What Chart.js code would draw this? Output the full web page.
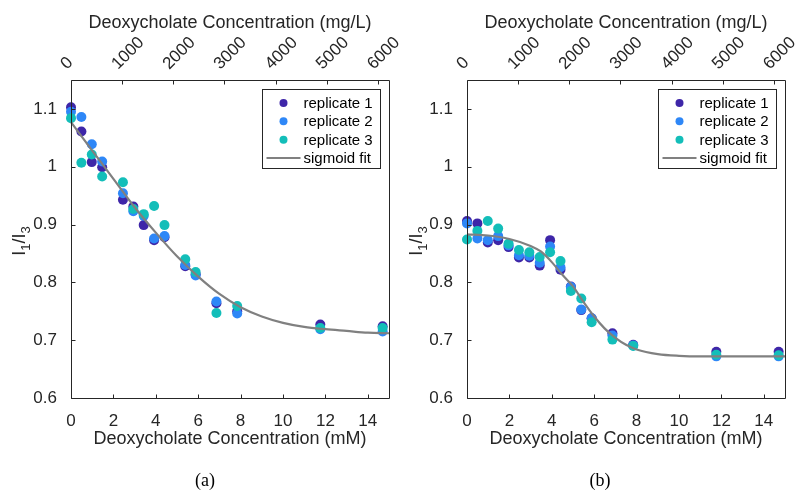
<!DOCTYPE html>
<html><head><meta charset="utf-8">
<script src="https://cdn.jsdelivr.net/npm/chart.js@4/dist/chart.umd.min.js"></script>
<style>
html,body{margin:0;padding:0;background:#fff;}
#wrap{position:relative;width:795px;height:490px;overflow:hidden;background:#fff;}
canvas{position:absolute;top:0;}
.cap{position:absolute;font-family:"Liberation Serif","DejaVu Serif",serif;font-size:18px;color:#000;transform:translate(-50%,-50%);white-space:nowrap;}
</style></head><body>
<div id="wrap">
<canvas id="ca" width="404" height="490" style="left:0"></canvas>
<canvas id="cb" width="398" height="490" style="left:397px"></canvas>
<div class="cap" style="left:205px;top:480px">(a)</div>
<div class="cap" style="left:600px;top:480px">(b)</div>
</div>
<script>
// ---- labels ----
const seriesNames = ['replicate 1', 'replicate 2', 'replicate 3'];
const fitName = 'sigmoid fit';
const xTitle = 'Deoxycholate Concentration (mM)';
const x2Title = 'Deoxycholate Concentration (mg/L)';
const mMTicks = [0, 2, 4, 6, 8, 10, 12, 14];
const mgTicks = [0, 1000, 2000, 3000, 4000, 5000, 6000];
const yTicks = [0.6, 0.7, 0.8, 0.9, 1, 1.1];
const molarMass = 414.55; // mg/L per mM

// ---- panel (a) ----
const concA = [0, 0.49, 0.98, 1.47, 2.45, 2.94, 3.43, 3.92, 4.41, 5.39, 5.88, 6.86, 7.84, 11.76, 14.7];
const aRep1 = [1.103, 1.061, 1.008, 0.999, 0.943, 0.931, 0.899, 0.873, 0.878, 0.828, 0.814, 0.764, 0.750, 0.727, 0.724];
const aRep2 = [1.095, 1.086, 1.039, 1.009, 0.954, 0.923, 0.915, 0.876, 0.880, 0.830, 0.812, 0.767, 0.746, 0.719, 0.715];
const aRep3 = [1.084, 1.007, 1.021, 0.983, 0.973, 0.927, 0.918, 0.932, 0.899, 0.840, 0.818, 0.747, 0.759, 0.721, 0.721];
const fitXA = [0, 1, 2, 3, 4, 5, 6, 7, 8, 9, 10, 11, 12, 13, 14, 15];
const fitYA = [1.077, 1.028, 0.979, 0.930, 0.886, 0.845, 0.810, 0.780, 0.757, 0.741, 0.730, 0.723, 0.719, 0.716, 0.713, 0.712];

// ---- panel (b) ----
const concB = [0, 0.49, 0.98, 1.47, 1.96, 2.45, 2.94, 3.43, 3.92, 4.41, 4.9, 5.39, 5.88, 6.86, 7.84, 11.76, 14.7];
const bRep1 = [0.906, 0.902, 0.869, 0.873, 0.861, 0.843, 0.843, 0.829, 0.873, 0.822, 0.793, 0.752, 0.738, 0.712, 0.692, 0.680, 0.680];
const bRep2 = [0.902, 0.876, 0.873, 0.880, 0.864, 0.847, 0.846, 0.834, 0.862, 0.826, 0.792, 0.753, 0.738, 0.708, 0.691, 0.672, 0.672];
const bRep3 = [0.874, 0.889, 0.906, 0.893, 0.867, 0.856, 0.852, 0.844, 0.852, 0.837, 0.785, 0.772, 0.731, 0.701, 0.690, 0.675, 0.674];
const fitXB = [0, 1, 2, 3, 3.5, 4, 4.5, 5, 5.5, 6, 6.5, 7, 7.5, 8, 9, 10, 11, 12, 13, 14, 15];
const fitYB = [0.883, 0.881, 0.875, 0.863, 0.853, 0.835, 0.813, 0.793, 0.766, 0.741, 0.720, 0.704, 0.692, 0.684, 0.676, 0.673, 0.672, 0.672, 0.672, 0.672, 0.672];

// ---- styles ----
const repColors = ['#3e26a8', '#2e87f7', '#13beb9'];
const fitColor = '#808080';
const axisColor = '#262626';
const FONT = '"Liberation Sans", Arial, Helvetica, sans-serif';

const decor = {
  id: 'decor',
  afterDatasetsDraw(chart) {
    const ctx = chart.ctx, a = chart.chartArea;
    const sx = chart.scales.x, sx2 = chart.scales.x2, sy = chart.scales.y;
    ctx.save();
    ctx.strokeStyle = axisColor;
    ctx.lineWidth = 1;
    const L = Math.round(a.left) + 0.5, R = Math.round(a.right) + 0.5;
    const T = Math.round(a.top) + 0.5, B = Math.round(a.bottom) + 0.5;
    ctx.beginPath();
    ctx.rect(L, T, R - L, B - T);
    const tl = 4;
    mMTicks.forEach(v => { const p = Math.round(sx.getPixelForValue(v)) + 0.5; ctx.moveTo(p, B); ctx.lineTo(p, B - tl); });
    mgTicks.forEach(v => { const p = Math.round(sx2.getPixelForValue(v)) + 0.5; ctx.moveTo(p, T); ctx.lineTo(p, T + tl); });
    yTicks.forEach(v => { const p = Math.round(sy.getPixelForValue(v)) + 0.5; ctx.moveTo(L, p); ctx.lineTo(L + tl, p); });
    ctx.stroke();

    // legend box
    const bx = Math.round(a.right) - 127 + 0.5, by = Math.round(a.top) + 9.5, bw = 118, bh = 79;
    ctx.fillStyle = '#fff';
    ctx.fillRect(bx, by, bw, bh);
    ctx.strokeStyle = axisColor;
    ctx.strokeRect(bx, by, bw, bh);
    ctx.font = '15px ' + FONT;
    ctx.textBaseline = 'middle';
    ctx.textAlign = 'left';
    const rows = [13.5, 31.8, 50.2, 68.4];
    seriesNames.forEach((n, i) => {
      ctx.fillStyle = repColors[i];
      ctx.beginPath(); ctx.arc(bx + 21, by + rows[i], 4, 0, Math.PI * 2); ctx.fill();
      ctx.fillStyle = '#000';
      ctx.fillText(n, bx + 41, by + rows[i] + 1);
    });
    ctx.strokeStyle = fitColor; ctx.lineWidth = 2;
    ctx.beginPath(); ctx.moveTo(bx + 4, by + rows[3]); ctx.lineTo(bx + 38, by + rows[3]); ctx.stroke();
    ctx.fillStyle = '#000';
    ctx.fillText(fitName, bx + 41, by + rows[3] + 1);

    // y title I1/I3
    ctx.translate(20, (a.top + a.bottom) / 2 + 2);
    ctx.rotate(-Math.PI / 2);
    ctx.fillStyle = axisColor;
    const big = '18px ' + FONT, small = '13px ' + FONT;
    const parts = [['I', big, 0], ['1', small, 6], ['/I', big, 0], ['3', small, 6]];
    let w = 0;
    parts.forEach(p => { ctx.font = p[1]; w += ctx.measureText(p[0]).width; });
    let x = -w / 2;
    ctx.textBaseline = 'middle';
    parts.forEach(p => { ctx.font = p[1]; ctx.fillText(p[0], x, p[2]); x += ctx.measureText(p[0]).width; });
    ctx.restore();
  }
};

function makeChart(id, conc, reps, fitX, fitY, yWidth, padRight) {
  const datasets = [
    {
      type: 'line', label: fitName, data: fitX.map((x, i) => ({ x, y: fitY[i] })),
      borderColor: fitColor, borderWidth: 2.2, pointRadius: 0, fill: false,
      cubicInterpolationMode: 'monotone', order: 0, clip: false
    }
  ];
  reps.forEach((r, i) => {
    datasets.push({
      type: 'scatter', label: seriesNames[i], data: conc.map((x, j) => ({ x, y: r[j] })),
      backgroundColor: repColors[i], borderColor: repColors[i], borderWidth: 0,
      pointRadius: 5, pointHoverRadius: 5, order: 3 - i, clip: false
    });
  });
  const tickFont = { family: FONT, size: 17 };
  return new Chart(document.getElementById(id), {
    data: { datasets },
    options: {
      responsive: false, animation: false,
      layout: { padding: { left: 0, right: padRight, top: 0, bottom: 0 } },
      plugins: { legend: { display: false }, tooltip: { enabled: false } },
      scales: {
        x: {
          type: 'linear', position: 'bottom', min: 0, max: 15,
          grid: { display: false }, border: { display: false },
          ticks: { font: tickFont, color: axisColor, padding: 5, maxRotation: 0, autoSkip: false, callback: v => String(v) },
          afterBuildTicks: s => { s.ticks = mMTicks.map(v => ({ value: v })); },
          afterFit: s => { s.height = 92; s.paddingLeft = 0; s.paddingRight = 0; },
          title: { display: true, text: xTitle, color: axisColor, font: { family: FONT, size: 18 }, padding: { top: 0, bottom: 40 } }
        },
        x2: {
          type: 'linear', position: 'top', min: 0, max: 15 * molarMass,
          grid: { display: false }, border: { display: false },
          ticks: { font: tickFont, color: axisColor, padding: -2, labelOffset: 7, minRotation: 45, maxRotation: 45, autoSkip: false, callback: v => String(v) },
          afterBuildTicks: s => { s.ticks = mgTicks.map(v => ({ value: v })); },
          afterFit: s => { s.height = 80; s.paddingLeft = 0; s.paddingRight = 0; },
          title: { display: true, text: x2Title, color: axisColor, font: { family: FONT, size: 18 }, padding: { top: 12, bottom: 0 } }
        },
        y: {
          type: 'linear', position: 'left', min: 0.6, max: 1.15,
          grid: { display: false }, border: { display: false },
          ticks: { font: tickFont, color: axisColor, padding: 6, autoSkip: false, callback: v => String(v) },
          afterBuildTicks: s => { s.ticks = yTicks.map(v => ({ value: v })); },
          afterFit: s => { s.width = yWidth; s.paddingTop = 0; s.paddingBottom = 0; },
          title: { display: false }
        }
      }
    },
    plugins: [decor]
  });
}

makeChart('ca', concA, [aRep1, aRep2, aRep3], fitXA, fitYA, 71, 15);
makeChart('cb', concB, [bRep1, bRep2, bRep3], fitXB, fitYB, 70, 10);
</script>
</body></html>
